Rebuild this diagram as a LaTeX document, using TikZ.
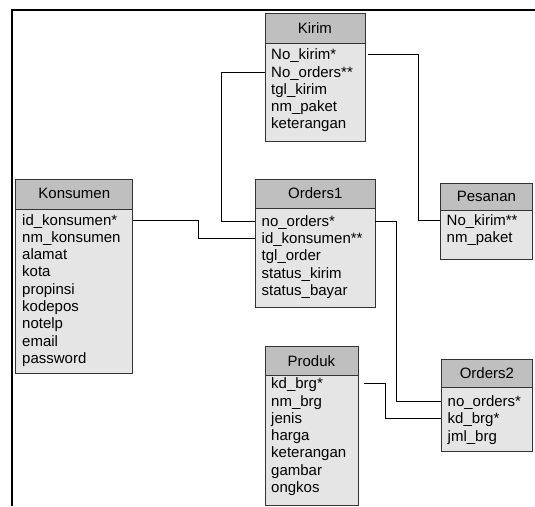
\documentclass[tikz,border=0pt]{standalone}
\usepackage{fontspec}
\setmainfont{Liberation Sans}
\begin{document}
\begin{tikzpicture}[x=1pt,y=-1pt,
  every node/.style={font=\fontsize{15}{17.3}\selectfont},
  hdr/.style={draw=black!80, line width=0.8pt, fill=black!25, anchor=north west, inner sep=0pt},
  tbody/.style={draw=black!80, line width=0.8pt, fill=black!10, anchor=north west, inner sep=0pt},
  row/.style={anchor=west, inner sep=0pt, text height=10pt, text depth=0pt},
  link/.style={draw=black, line width=0.8pt}]
\useasboundingbox (0,0) rectangle (535,506);
\fill[white] (0,0) rectangle (535,506);

% outer frame (left and top edges)
\draw[line width=1.7pt] (11.8,506) |- (535,10.2);

% Kirim
\node[hdr, minimum width=100, minimum height=29.5] (kirim-h) at (264.5,13) {Kirim};
\node[tbody, minimum width=100, minimum height=98.5] (kirim) at (264.5,42.5) {};
\node[row] (kirim-1) at (271,54.7) {No\_kirim*};
\node[row] (kirim-2) at (271,72.0) {No\_orders**};
\node[row] (kirim-3) at (271,89.3) {tgl\_kirim};
\node[row] (kirim-4) at (271,106.6) {nm\_paket};
\node[row] (kirim-5) at (271,123.9) {keterangan};

% Konsumen
\node[hdr, minimum width=117, minimum height=30] (kons-h) at (15.4,178.5) {Konsumen};
\node[tbody, minimum width=117, minimum height=164] (kons) at (15.4,208.5) {};
\node[row] (kons-1) at (22,220.0) {id\_konsumen*};
\node[row] (kons-2) at (22,237.3) {nm\_konsumen};
\node[row] (kons-3) at (22,254.6) {alamat};
\node[row] (kons-4) at (22,271.9) {kota};
\node[row] (kons-5) at (22,289.2) {propinsi};
\node[row] (kons-6) at (22,306.5) {kodepos};
\node[row] (kons-7) at (22,323.8) {notelp};
\node[row] (kons-8) at (22,341.1) {email};
\node[row] (kons-9) at (22,358.4) {password};

% Orders1
\node[hdr, minimum width=119.4, minimum height=29] (ord1-h) at (255.2,178.5) {Orders1};
\node[tbody, minimum width=119.4, minimum height=99] (ord1) at (255.2,207.5) {};
\node[row] (ord1-1) at (261.5,221.0) {no\_orders*};
\node[row] (ord1-2) at (261.5,238.5) {id\_konsumen**};
\node[row] (ord1-3) at (261.5,255.8) {tgl\_order};
\node[row] (ord1-4) at (261.5,273.1) {status\_kirim};
\node[row] (ord1-5) at (261.5,290.4) {status\_bayar};

% Pesanan
\node[hdr, minimum width=92, minimum height=27] (pes-h) at (440,183) {Pesanan};
\node[tbody, minimum width=92, minimum height=49] (pes) at (440,210) {};
\node[row] (pes-1) at (446.5,220.5) {No\_kirim**};
\node[row] (pes-2) at (446.5,237.8) {nm\_paket};

% Produk
\node[hdr, minimum width=93, minimum height=29] (prod-h) at (264.5,346) {Produk};
\node[tbody, minimum width=93, minimum height=130] (prod) at (264.5,375) {};
\node[row] (prod-1) at (271,383.7) {kd\_brg*};
\node[row] (prod-2) at (271,401.0) {nm\_brg};
\node[row] (prod-3) at (271,418.3) {jenis};
\node[row] (prod-4) at (271,435.6) {harga};
\node[row] (prod-5) at (271,452.9) {keterangan};
\node[row] (prod-6) at (271,470.2) {gambar};
\node[row] (prod-7) at (271,487.5) {ongkos};

% Orders2
\node[hdr, minimum width=91, minimum height=28.2] (ord2-h) at (441,358.8) {Orders2};
\node[tbody, minimum width=91, minimum height=64] (ord2) at (441,387) {};
\node[row] (ord2-1) at (447.5,401.4) {no\_orders*};
\node[row] (ord2-2) at (447.5,418.7) {kd\_brg*};
\node[row] (ord2-3) at (447.5,436.0) {jml\_brg};

% bend columns of the connectors
\coordinate (c1) at (221,0);
\coordinate (c2) at (418,0);
\coordinate (c3) at (198.5,0);
\coordinate (c4) at (396.6,0);
\coordinate (c5) at (385.6,0);

% relations
\draw[link] (kirim.west |- kirim-2) -| (c1 |- ord1-1) -- (ord1.west |- ord1-1);
\draw[link] ([xshift=3pt]kirim.east |- kirim-1) -| (c2 |- pes-1) -- (pes.west |- pes-1);
\draw[link] (kons.east |- kons-1) -| (c3 |- ord1-2) -- (ord1.west |- ord1-2);
\draw[link] (ord1.east |- ord1-1) -| (c4 |- ord2-1) -- (ord2.west |- ord2-1);
\draw[link] ([xshift=6pt]prod.east |- prod-1) -| (c5 |- ord2-2) -- (ord2.west |- ord2-2);
\end{tikzpicture}
\end{document}
